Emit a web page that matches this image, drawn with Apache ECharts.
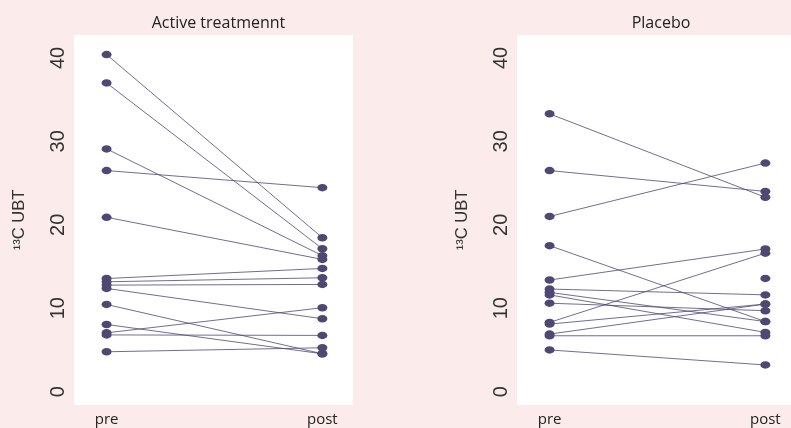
<!DOCTYPE html>
<html><head><meta charset="utf-8">
<script src="https://cdn.jsdelivr.net/npm/echarts@6/dist/echarts.min.js"></script>
<style>html,body{margin:0;padding:0;background:#fbebea}#c{width:791px;height:428px}</style>
</head><body><div id="c"></div>
<script>
// ---- data ----
const timepoints = ['pre', 'post'];
const panelTitles = ['Active treatmennt', 'Placebo'];
const yTicks = [0, 10, 20, 30, 40];
const yAxisName = '\u00B9\u00B3C UBT';

const activePre  = [40.4, 37.0, 29.1, 26.5, 20.9, 13.56, 13.17, 12.77, 12.37, 10.45, 8.05, 7.05, 6.8, 4.78];
const activePost = [18.45, 17.13, 16.3, 24.45, 15.85, 14.77, 13.65, 12.85, 8.74, 4.54, 4.54, 10.06, 6.74, 5.26];

const placeboPre  = [33.3, 26.5, 21.0, 17.5, 13.38, 12.3, 11.9, 11.6, 10.6, 8.3, 8.1, 6.9, 6.7, 5.0, null];
const placeboPost = [23.3, 24.0, 27.4, 8.4, 17.1, 11.6, 8.4, 7.1, 9.7, 16.6, 10.5, 10.5, 6.7, 3.2, 13.57];

// ---- style ----
const dotColor = '#4e4873';
const lineColor = '#4e4873';
const panels = [
  { pre: activePre, post: activePost, left: 74, cx: 213.5 },
  { pre: placeboPre, post: placeboPost, left: 517, cx: 656 }
];

const chart = echarts.init(document.getElementById('c'), null, { renderer: 'canvas' });

const grids = [], xAxes = [], yAxes = [], series = [], titles = [];
panels.forEach((p, k) => {
  grids.push({ left: p.left, top: 35, width: 279, height: 370, show: true,
    backgroundColor: '#ffffff', borderWidth: 0, containLabel: false, outerBoundsMode: 'none' });
  titles.push({ text: panelTitles[k], left: p.cx, top: 10, textAlign: 'center',
    textStyle: { fontFamily: 'Open Sans', fontWeight: 'normal', fontSize: 16, color: '#222' } });
  xAxes.push({ type: 'value', gridIndex: k, min: -0.151, max: 1.142,
    splitLine: { show: false }, axisLine: { show: false }, axisTick: { show: false },
    axisLabel: { customValues: [0, 1], formatter: v => timepoints[Math.round(v)],
      fontFamily: 'Open Sans', fontSize: 15, color: '#222', margin: 7 } });
  yAxes.push({ type: 'value', gridIndex: k, min: -1.6, max: 42.75,
    splitLine: { show: false }, axisLine: { show: false }, axisTick: { show: false },
    axisLabel: { customValues: yTicks, rotate: 90, fontFamily: 'Liberation Sans', fontSize: 20,
      color: '#333', margin: 6 },
    name: yAxisName, nameLocation: 'middle', nameRotate: 90, nameGap: 46,
    nameTextStyle: { fontFamily: 'Liberation Sans', fontSize: 16.5, color: '#333' } });

  const pts = [];
  p.pre.forEach((v, i) => {
    const w = p.post[i];
    if (v != null && w != null) {
      series.push({ type: 'line', xAxisIndex: k, yAxisIndex: k, data: [[0, v], [1, w]],
        symbol: 'none', silent: true, animation: false, z: 2,
        lineStyle: { width: 0.8, color: lineColor } });
    }
    if (v != null) pts.push([0, v]);
    if (w != null) pts.push([1, w]);
  });
  series.push({ type: 'scatter', xAxisIndex: k, yAxisIndex: k, data: pts,
    symbol: 'circle', symbolSize: [10, 7.5], itemStyle: { color: dotColor, opacity: 1 },
    silent: true, animation: false, z: 3 });
});

chart.setOption({
  backgroundColor: '#fbebea',
  animation: false,
  title: titles,
  grid: grids,
  xAxis: xAxes,
  yAxis: yAxes,
  series: series
});
</script></body></html>
